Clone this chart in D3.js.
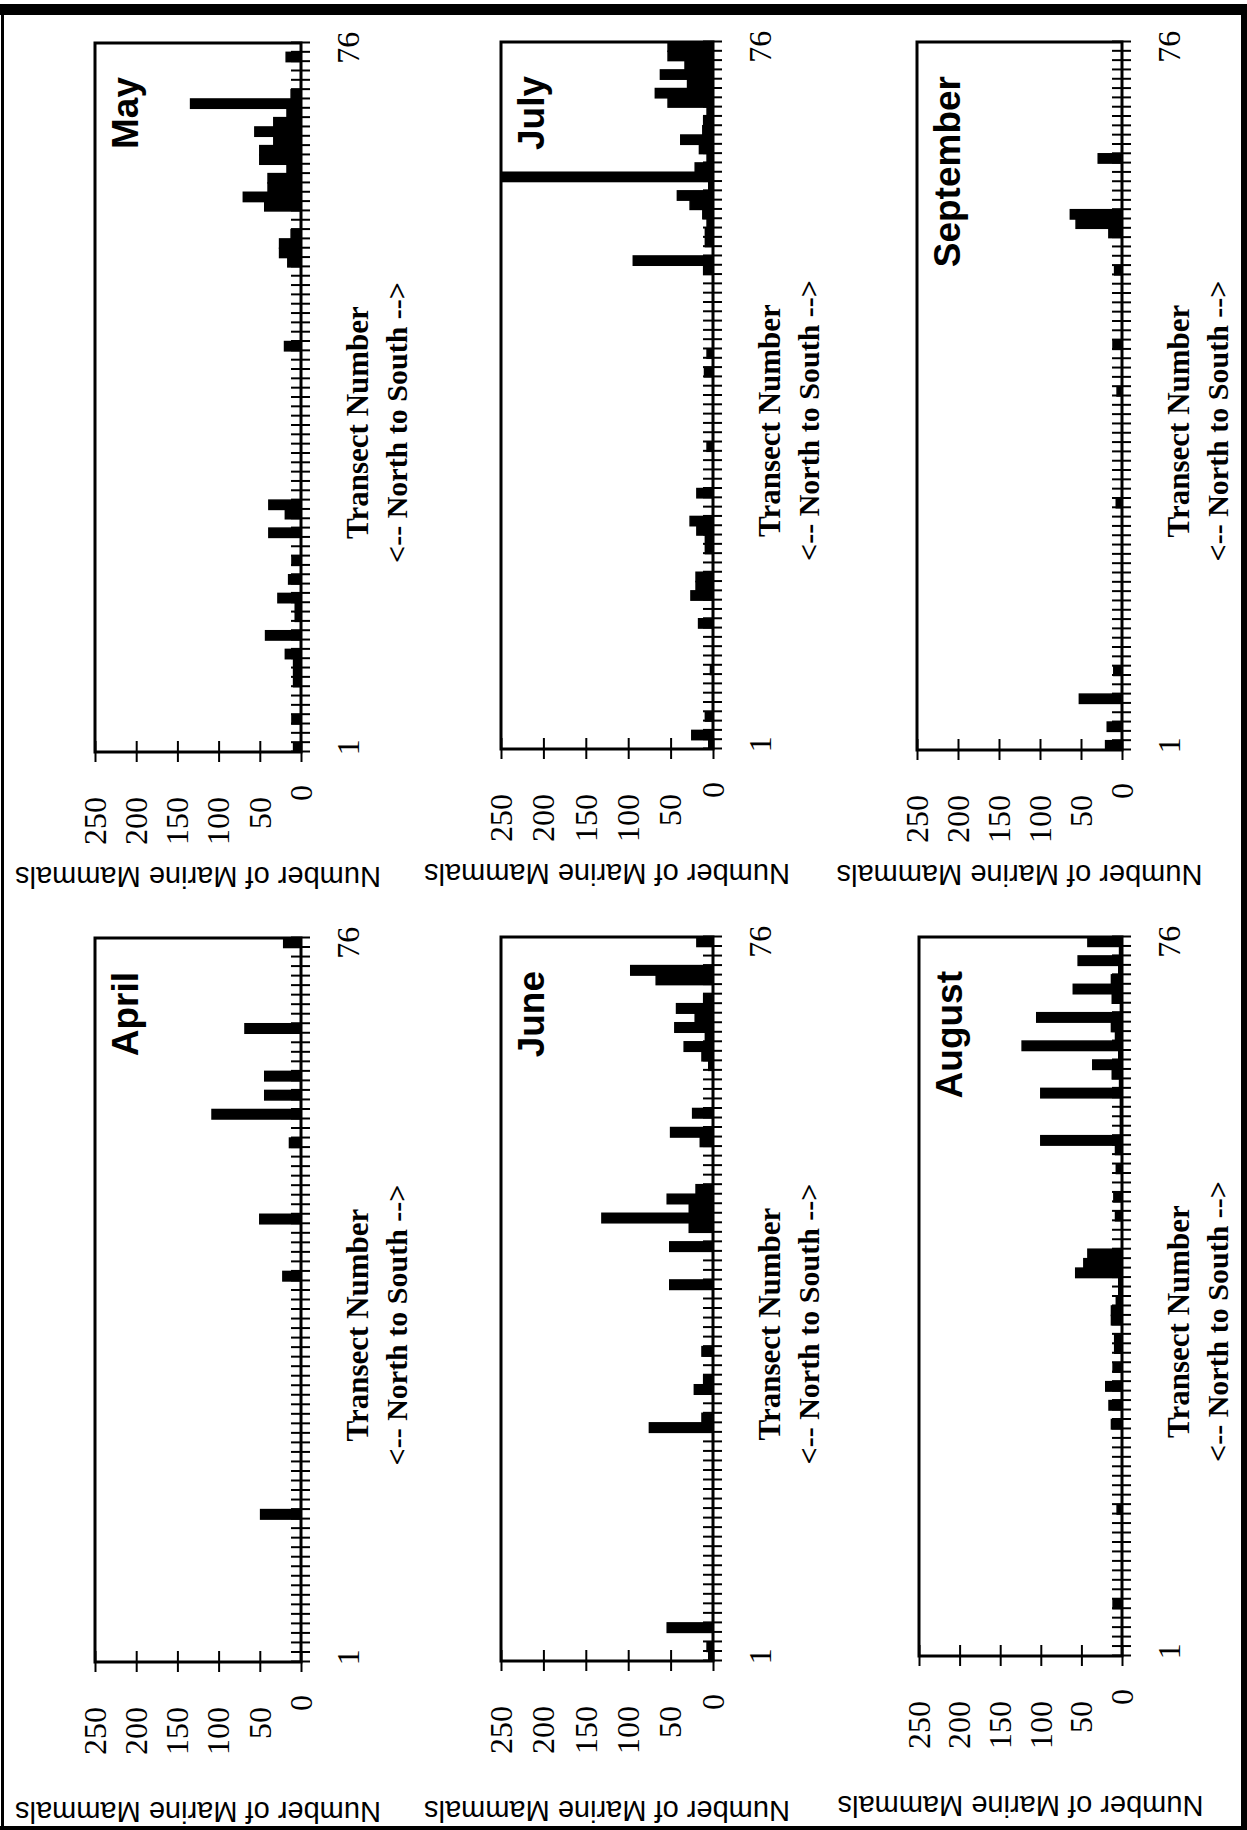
<!DOCTYPE html>
<html>
<head>
<meta charset="utf-8">
<script src="https://cdn.jsdelivr.net/npm/d3@7"></script>
<style>
  body { margin: 0; background: #fff; }
</style>
</head>
<body>
<div id="chart"></div>
<script>
// counts per transect, index 0 = transect 1 ... index 75 = transect 76
const months = ['April', 'May', 'June', 'July', 'August', 'September'];
const transects = d3.range(1, 77);
const valueTicks = [0, 50, 100, 150, 200, 250];
const transectLabels = [1, 76];

const april = [
    0, 0, 0, 0, 0, 0, 0, 0, 0, 0, 0, 0, 0, 0, 0, 49, 0, 0, 0,
    0, 0, 0, 0, 0, 0, 0, 0, 0, 0, 0, 0, 0, 0, 0, 0, 0, 0, 0,
    0, 0, 22, 0, 0, 0, 0, 0, 50, 0, 0, 0, 0, 0, 0, 0, 14, 0, 0,
    108, 0, 44, 0, 44, 0, 0, 0, 0, 68, 0, 0, 0, 0, 0, 0, 0, 0, 21
];
const may = [
    9, 0, 0, 11, 0, 0, 0, 9, 9, 9, 19, 0, 43, 0, 7, 7, 28, 0, 15,
    0, 11, 0, 0, 39, 0, 19, 39, 0, 0, 0, 0, 0, 0, 0, 0, 0, 0, 0,
    0, 0, 0, 0, 0, 20, 0, 0, 0, 0, 0, 0, 0, 0, 16, 26, 26, 12, 0,
    0, 44, 70, 40, 40, 17, 50, 50, 33, 56, 33, 17, 134, 12, 0, 0, 0, 18, 0
];
const june = [
    5, 7, 0, 54, 0, 0, 0, 0, 0, 0, 0, 0, 0, 0, 0, 0, 0, 0, 0,
    0, 0, 0, 0, 0, 75, 13, 0, 0, 22, 11, 0, 0, 13, 0, 0, 0, 0, 0,
    0, 51, 0, 0, 0, 51, 0, 28, 131, 28, 54, 20, 0, 0, 0, 0, 15, 50, 0,
    24, 0, 0, 0, 0, 5, 13, 34, 9, 45, 21, 43, 11, 0, 67, 97, 0, 0, 19
];
const july = [
    5, 25, 0, 9, 0, 0, 0, 0, 3, 0, 0, 0, 0, 17, 0, 0, 26, 20, 20,
    0, 0, 9, 9, 19, 27, 0, 0, 19, 0, 0, 0, 0, 7, 0, 0, 0, 0, 0,
    0, 0, 10, 0, 7, 0, 0, 0, 0, 0, 0, 0, 0, 11, 94, 0, 9, 9, 7,
    12, 27, 42, 5, 280, 21, 7, 16, 38, 12, 11, 7, 53, 68, 30, 62, 33, 53, 53
];
const august = [
    0, 0, 0, 0, 0, 11, 0, 0, 0, 0, 0, 0, 0, 0, 0, 6, 0, 0, 0,
    0, 0, 0, 0, 0, 13, 0, 16, 0, 20, 0, 11, 0, 9, 9, 0, 13, 13, 7,
    4, 4, 57, 47, 42, 0, 0, 0, 8, 0, 10, 0, 0, 7, 0, 8, 100, 2, 2,
    2, 2, 100, 3, 12, 36, 4, 123, 8, 13, 105, 2, 12, 60, 13, 4, 54, 3, 42
];
const september = [
    20, 0, 18, 0, 0, 52, 0, 0, 10, 0, 0, 0, 0, 0, 0, 0, 0, 0, 0,
    0, 0, 0, 0, 0, 0, 0, 7, 0, 0, 0, 0, 0, 0, 0, 0, 0, 0, 0,
    6, 0, 0, 0, 0, 11, 0, 0, 0, 0, 0, 0, 0, 9, 0, 0, 0, 16, 56,
    63, 0, 0, 0, 0, 0, 29, 0, 0, 0, 0, 0, 0, 0, 0, 0, 0, 0, 0, 15
];
const counts = [april, may, june, july, august, september];

// panel boxes, drawn in landscape coordinates (page is turned a quarter afterwards)
const layout = [
    { x0: 168, x1: 892, yTop: 95, yAxis: 301, titleGap: 140 },
    { x0: 1078, x1: 1787, yTop: 95, yAxis: 301, titleGap: 115 },
    { x0: 169, x1: 893, yTop: 501, yAxis: 713, titleGap: 140 },
    { x0: 1081, x1: 1788, yTop: 501, yAxis: 713, titleGap: 115 },
    { x0: 174, x1: 893, yTop: 919, yAxis: 1122, titleGap: 140 },
    { x0: 1080, x1: 1788, yTop: 917, yAxis: 1122, titleGap: 115 }
];

const pageW = 1247, pageH = 1830;
const serif = "'Liberation Serif', 'Times New Roman', serif";
const sans = "'Liberation Sans', Arial, sans-serif";

const svg = d3.select('#chart').append('svg')
    .attr('width', pageW)
    .attr('height', pageH);

svg.append('rect').attr('width', pageW).attr('height', pageH).attr('fill', '#fff');

// landscape group, rotated counter-clockwise onto the portrait page
const land = svg.append('g')
    .attr('transform', `translate(0,${pageH}) rotate(-90)`);

months.forEach((month, i) => {
    const box = layout[i];
    const data = counts[i];
    const g = land.append('g');

    const x = d3.scaleBand().domain(transects).range([box.x0, box.x1]).padding(0);
    const xEdge = d3.scaleLinear().domain([0.5, 76.5]).range([box.x0, box.x1]);
    const y = d3.scaleLinear().domain([0, 250]).range([box.yAxis, box.yTop]).clamp(true);

    // bars
    g.selectAll('.bar')
        .data(transects.filter(t => data[t - 1] > 0))
        .enter().append('rect')
        .attr('class', 'bar')
        .attr('x', t => x(t))
        .attr('y', t => y(data[t - 1]))
        .attr('width', x.bandwidth())
        .attr('height', t => box.yAxis - y(data[t - 1]))
        .attr('fill', '#000')
        .attr('stroke', '#000')
        .attr('stroke-width', 1.5);

    // frame
    g.append('rect')
        .attr('x', box.x0)
        .attr('y', box.yTop)
        .attr('width', box.x1 - box.x0)
        .attr('height', box.yAxis - box.yTop)
        .attr('fill', 'none')
        .attr('stroke', '#000')
        .attr('stroke-width', 3);

    // value axis, ticks crossing the frame
    const yAxis = g.append('g')
        .attr('transform', `translate(${box.x0},0)`)
        .call(d3.axisLeft(y).tickValues(valueTicks).tickSize(10).tickPadding(35))
        .call(a => a.select('.domain').remove());
    yAxis.selectAll('.tick line').attr('x1', 11).attr('stroke-width', 2);
    yAxis.selectAll('.tick text')
        .attr('font-family', serif)
        .attr('font-size', 32)
        .attr('fill', '#000')
        .attr('dx', d => d === 0 ? 12 : 0);

    // transect axis, a tick at every band edge
    const xAxis = g.append('g')
        .attr('transform', `translate(0,${box.yAxis})`)
        .call(d3.axisBottom(xEdge).tickValues(d3.range(0.5, 77, 1)).tickSize(9).tickFormat(''))
        .call(a => a.select('.domain').remove());
    xAxis.selectAll('.tick line').attr('y1', -10).attr('stroke-width', 2);

    g.selectAll('.tlabel')
        .data(transectLabels)
        .enter().append('text')
        .attr('class', 'tlabel')
        .attr('x', t => x(t) + x.bandwidth() / 2)
        .attr('y', box.yAxis + 58)
        .attr('text-anchor', 'middle')
        .attr('font-family', serif)
        .attr('font-size', 32)
        .text(t => t);

    const mid = (box.x0 + box.x1) / 2;
    g.append('text')
        .attr('x', mid - 25)
        .attr('y', box.yAxis + 67)
        .attr('text-anchor', 'middle')
        .attr('font-family', serif)
        .attr('font-weight', 'bold')
        .attr('font-size', 31)
        .text('Transect Number');
    g.append('text')
        .attr('x', mid - 25)
        .attr('y', box.yAxis + 106)
        .attr('text-anchor', 'middle')
        .attr('font-family', serif)
        .attr('font-weight', 'bold')
        .attr('font-size', 30)
        .text('<-- North to South -->');

    // y title
    g.append('text')
        .attr('transform', `translate(${box.x0 - box.titleGap},${(box.yTop + box.yAxis) / 2}) rotate(-90)`)
        .attr('text-anchor', 'middle')
        .attr('font-family', sans)
        .attr('font-size', 29)
        .text('Number of Marine Mammals');

    // month name
    g.append('text')
        .attr('x', box.x1 - 34)
        .attr('y', box.yTop + 43)
        .attr('text-anchor', 'end')
        .attr('font-family', sans)
        .attr('font-weight', 'bold')
        .attr('font-size', 37)
        .text(month);
});

// page border
svg.append('rect').attr('x', 0).attr('y', 4).attr('width', pageW).attr('height', 11).attr('fill', '#000');
svg.append('rect').attr('x', 1).attr('y', 4).attr('width', 3).attr('height', pageH - 4).attr('fill', '#000');
svg.append('rect').attr('x', pageW - 6).attr('y', 4).attr('width', 6).attr('height', pageH - 4).attr('fill', '#000');
svg.append('rect').attr('x', 0).attr('y', pageH - 4).attr('width', pageW).attr('height', 4).attr('fill', '#000');
</script>
</body>
</html>
